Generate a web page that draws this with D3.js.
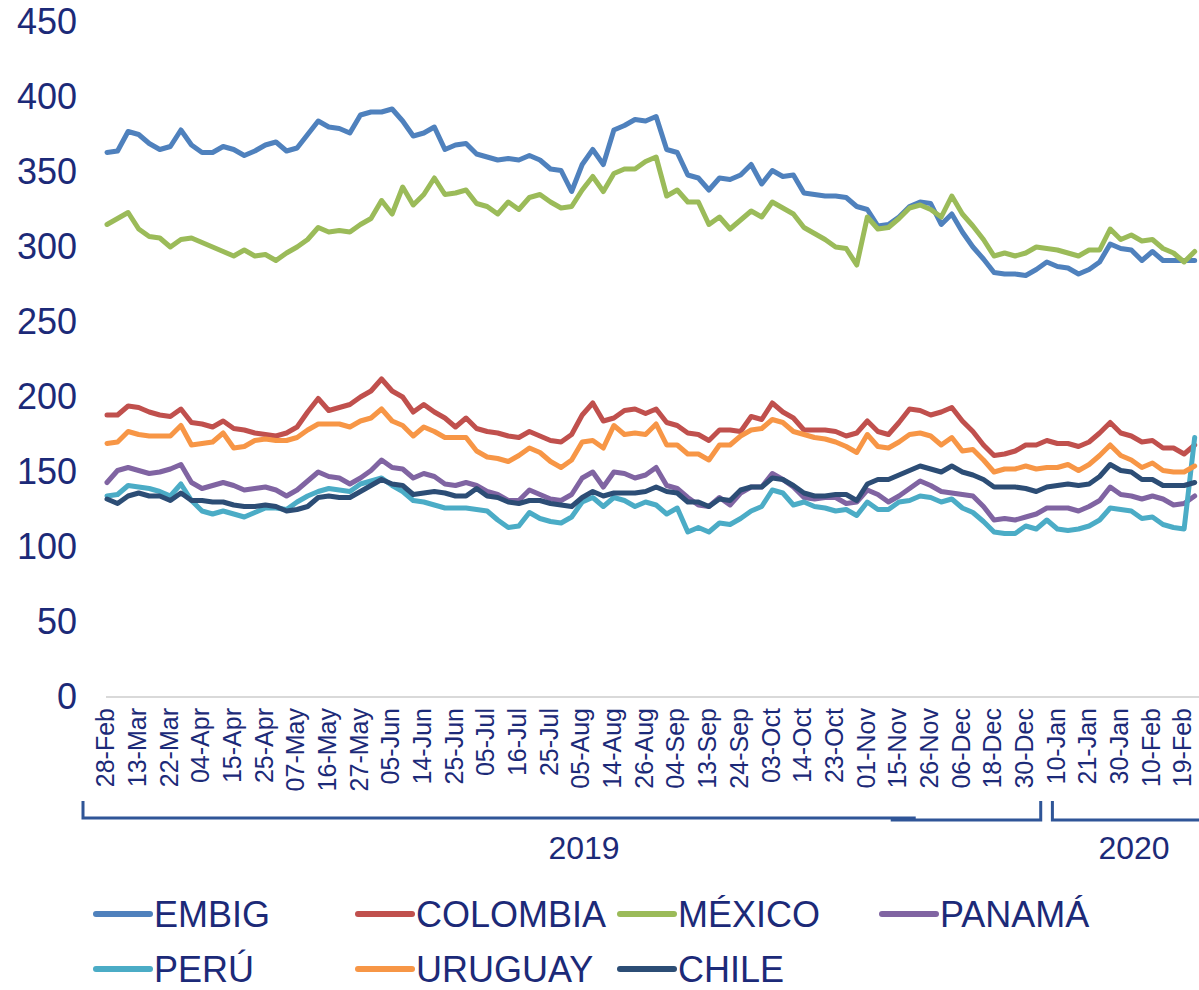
<!DOCTYPE html>
<html>
<head>
<meta charset="utf-8">
<script src="https://cdn.jsdelivr.net/npm/d3@7"></script>
<style>
  html, body { margin: 0; padding: 0; background: #ffffff; }
  svg { display: block; }
  text { font-family: "Liberation Sans", Arial, sans-serif; fill: #1C2A78; }
</style>
</head>
<body>
<svg id="chart" width="1199" height="990"></svg>
<script>
// ---------- DATA ----------
const tickLabels = ["28-Feb","13-Mar","22-Mar","04-Apr","15-Apr","25-Apr","07-May","16-May","27-May","05-Jun",
  "14-Jun","25-Jun","05-Jul","16-Jul","25-Jul","05-Aug","14-Aug","26-Aug","04-Sep","13-Sep",
  "24-Sep","03-Oct","14-Oct","23-Oct","01-Nov","15-Nov","26-Nov","06-Dec","18-Dec","30-Dec",
  "10-Jan","21-Jan","30-Jan","10-Feb","19-Feb"];
const pointsPerLabel = 3;

const yearGroups = ["2019", "2020"];
const yTicks = [0, 50, 100, 150, 200, 250, 300, 350, 400, 450];

const seriesNames = ["EMBIG", "COLOMBIA", "MÉXICO", "PANAMÁ", "PERÚ", "URUGUAY", "CHILE"];
const seriesColors = ["#4F81BD", "#C0504D", "#9BBB59", "#8064A2", "#4BACC6", "#F79646", "#2C4D75"];

const embig = [363,364,377,375,369,365,367,378,368,363,363,367,365,361,364,368,370,364,366,375,384,380,379,376,388,390,390,392,384,374,376,380,365,368,369,362,
  360,358,359,358,361,358,352,351,337,355,365,355,378,381,385,384,387,365,363,348,346,338,346,345,348,355,342,351,347,348,336,335,334,334,333,327,325,314,
  315,320,327,330,329,315,322,310,300,292,283,282,282,281,285,290,287,286,282,285,290,302,299,298,291,297,291,291,291,291];
const colombia = [188,188,194,193,190,188,187,192,183,182,180,184,179,178,176,175,174,176,180,190,199,191,193,195,200,204,212,204,200,190,195,190,186,180,186,179,
  177,176,174,173,177,174,171,170,175,188,196,184,186,191,192,189,192,183,181,176,175,171,178,178,177,187,185,196,190,186,178,178,178,177,174,176,184,177,
  175,183,192,191,188,190,193,184,177,168,161,162,164,168,168,171,169,169,167,170,176,183,176,174,170,171,166,166,162,168];
const mexico = [315,319,323,312,307,306,300,305,306,303,300,297,294,298,294,295,291,296,300,305,313,310,311,310,315,319,331,322,340,328,335,346,335,336,338,329,
  327,322,330,325,333,335,330,326,327,338,347,337,349,352,352,357,360,334,338,330,330,315,320,312,318,324,320,330,326,322,313,309,305,300,299,288,320,312,
  313,319,326,328,325,320,334,322,314,305,294,296,294,296,300,299,298,296,294,298,298,312,305,308,304,305,299,296,290,297];
const panama = [143,151,153,151,149,150,152,155,143,139,141,143,141,138,139,140,138,134,138,144,150,147,146,142,146,151,158,153,152,146,149,147,142,141,143,141,
  137,135,131,131,138,135,132,131,135,146,150,140,150,149,146,148,153,141,139,133,128,127,133,128,136,140,140,149,145,140,133,132,133,133,129,130,138,135,
  130,134,139,144,141,137,136,135,134,127,118,119,118,120,122,126,126,126,124,127,131,140,135,134,132,134,132,128,129,134];
const peru = [134,135,141,140,139,137,134,142,131,124,122,124,122,120,123,126,126,125,130,134,137,139,138,137,142,144,146,141,137,131,130,128,126,126,126,125,
  124,118,113,114,123,119,117,116,120,130,133,127,133,131,127,130,128,122,126,110,113,110,116,115,119,124,127,138,136,128,130,127,126,124,125,121,130,125,
  125,130,131,134,133,130,132,126,123,117,110,109,109,114,112,118,112,111,112,114,118,126,125,124,119,120,115,113,112,173];
const uruguay = [169,170,177,175,174,174,174,181,168,169,170,176,166,167,171,172,171,171,173,178,182,182,182,180,184,186,192,184,181,174,180,177,173,173,173,164,
  160,159,157,161,166,163,157,153,158,170,171,166,181,175,176,175,182,168,168,162,162,158,168,168,174,178,179,185,183,177,175,173,172,170,167,163,175,167,
  166,170,175,176,174,168,173,164,165,158,150,152,152,154,152,153,153,155,151,155,161,168,161,158,153,156,151,150,150,154];
const chile = [132,129,134,136,134,134,131,136,131,131,130,130,128,127,127,128,127,124,125,127,133,134,133,133,137,141,145,142,141,135,136,137,136,134,134,139,
  134,133,130,129,131,131,129,128,127,133,137,134,136,136,136,137,140,137,136,130,130,127,132,131,138,140,140,146,145,141,136,134,134,135,135,131,142,145,
  145,148,151,154,152,150,154,150,148,145,140,140,140,139,137,140,141,142,141,142,147,155,151,150,145,145,141,141,141,143];

const seriesValues = [embig, colombia, mexico, panama, peru, uruguay, chile];

// ---------- LAYOUT ----------
const svg = d3.select("#chart");
const nPts = embig.length;
const x = d3.scaleLinear().domain([0, nPts - 1]).range([107, 107 + (nPts - 1) * 10.56]);
const y = d3.scaleLinear().domain([0, 450]).range([697, 22]);

// Y axis
const yAxis = svg.append("g").attr("transform", "translate(108,0)")
  .call(d3.axisLeft(y).tickValues(yTicks).tickSize(0).tickPadding(31));
yAxis.select(".domain").remove();
yAxis.selectAll("text").style("font-size", "36px").style("fill", "#1C2A78")
  .style("font-family", '"Liberation Sans", Arial, sans-serif');

// X axis line
svg.append("line").attr("x1", 106).attr("x2", 1199).attr("y1", 697).attr("y2", 697)
  .attr("stroke", "#D9D9D9").attr("stroke-width", 2);

// X tick labels
const xAxis = svg.append("g").attr("transform", "translate(0,697)")
  .call(d3.axisBottom(x)
    .tickValues(tickLabels.map((d, i) => i * pointsPerLabel))
    .tickFormat((d) => tickLabels[d / pointsPerLabel])
    .tickSize(0));
xAxis.select(".domain").remove();
xAxis.selectAll("text")
  .attr("transform", "rotate(-90)")
  .attr("x", -11).attr("y", -2).attr("dy", "0.35em")
  .style("text-anchor", "end")
  .style("font-size", "25px").style("fill", "#1C2A78")
  .style("font-family", '"Liberation Sans", Arial, sans-serif');

// Year group brackets
const bracketColor = "#2F5597";
const g2019 = [x(0) - 24, x(29 * pointsPerLabel) + 15];
const g2020 = [x(30 * pointsPerLabel) - 5, 1199];
svg.append("path")
  .attr("d", `M${g2019[0]},801 V818 H${g2019[1] - 125}`)
  .attr("fill", "none").attr("stroke", bracketColor).attr("stroke-width", 3);
svg.append("path")
  .attr("d", `M${g2019[1] - 150},820 H${g2019[1]} V801`)
  .attr("fill", "none").attr("stroke", bracketColor).attr("stroke-width", 3);
svg.append("path")
  .attr("d", `M${g2020[0]},801 V820 H${g2020[1]}`)
  .attr("fill", "none").attr("stroke", bracketColor).attr("stroke-width", 3);
svg.append("text").attr("x", 584).attr("y", 859).attr("text-anchor", "middle")
  .style("font-size", "32px").text(yearGroups[0]);
svg.append("text").attr("x", 1134).attr("y", 859).attr("text-anchor", "middle")
  .style("font-size", "32px").text(yearGroups[1]);

// Lines
const line = d3.line().x((d, i) => x(i)).y((d) => y(d)).curve(d3.curveLinear);
seriesValues.forEach((vals, s) => {
  svg.append("path").datum(vals)
    .attr("d", line)
    .attr("fill", "none")
    .attr("stroke", seriesColors[s])
    .attr("stroke-width", 5)
    .attr("stroke-linejoin", "round")
    .attr("stroke-linecap", "round");
});

// Legend
const legendCols = [96, 358, 620, 882];
const legendRows = [914, 969];
seriesNames.forEach((name, i) => {
  const col = i < 4 ? i : i - 4;
  const row = i < 4 ? 0 : 1;
  const lx = legendCols[col], ly = legendRows[row];
  svg.append("line").attr("x1", lx).attr("x2", lx + 54).attr("y1", ly).attr("y2", ly)
    .attr("stroke", seriesColors[i]).attr("stroke-width", 6).attr("stroke-linecap", "round");
  svg.append("text").attr("x", lx + 58).attr("y", ly + 13)
    .style("font-size", "36px").text(name);
});
</script>
</body>
</html>
